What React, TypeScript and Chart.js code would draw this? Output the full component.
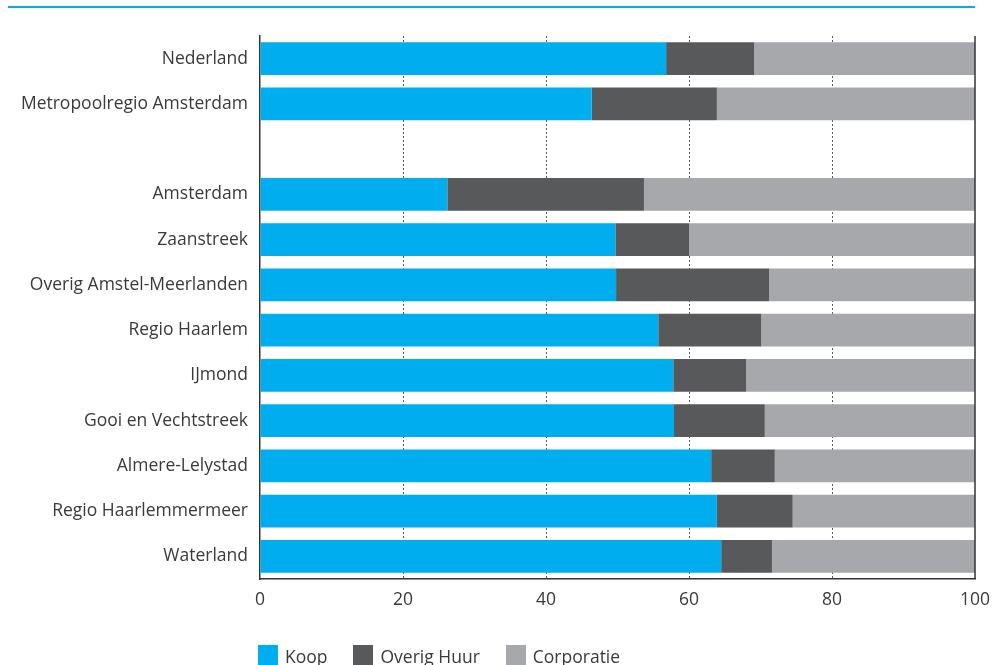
import React, { useEffect, useRef } from "react";
import { Chart, registerables } from "chart.js";

Chart.register(...registerables);

const categories = [
  "Nederland",
  "Metropoolregio Amsterdam",
  "",
  "Amsterdam",
  "Zaanstreek",
  "Overig Amstel-Meerlanden",
  "Regio Haarlem",
  "IJmond",
  "Gooi en Vechtstreek",
  "Almere-Lelystad",
  "Regio Haarlemmermeer",
  "Waterland",
];

const koop = [56.8, 46.4, null, 26.2, 49.7, 49.8, 55.7, 57.8, 57.9, 63.1, 63.9, 64.5];
const overigHuur = [12.3, 17.5, null, 27.5, 10.3, 21.4, 14.4, 10.2, 12.7, 8.9, 10.6, 7.1];
const corporatie = [30.9, 36.1, null, 46.3, 40.0, 28.8, 29.9, 32.0, 29.4, 28.0, 25.5, 28.4];

const xTicks = [0, 20, 40, 60, 80, 100];

const seriesNames = ["Koop", "Overig Huur", "Corporatie"];
const seriesColors = ["#00aeef", "#58595b", "#a7a8ab"];

const FONT = "'Open Sans', sans-serif";
const TEXT = "#3a3a3a";

const rightBorder = {
  id: "rightBorder",
  afterDatasetsDraw(chart: any) {
    const { ctx, chartArea } = chart;
    ctx.save();
    ctx.strokeStyle = "#333333";
    ctx.lineWidth = 1.5;
    ctx.beginPath();
    ctx.moveTo(chartArea.right, chartArea.top);
    ctx.lineTo(chartArea.right, chartArea.bottom);
    ctx.stroke();
    ctx.restore();
  },
};

export default function App() {
  const ref = useRef<HTMLCanvasElement | null>(null);

  useEffect(() => {
    if (!ref.current) return;
    const data = [koop, overigHuur, corporatie];
    const chart = new Chart(ref.current, {
      type: "bar",
      data: {
        labels: categories,
        datasets: seriesNames.map((name, i) => ({
          label: name,
          data: data[i] as any,
          backgroundColor: seriesColors[i],
          borderWidth: 0,
        })),
      },
      options: {
        indexAxis: "y",
        animation: false,
        responsive: false,
        maintainAspectRatio: false,
        layout: { padding: { left: 0, right: 27, top: 36, bottom: 46 } },
        plugins: {
          legend: { display: false },
          tooltip: { enabled: false },
        },
        scales: {
          x: {
            stacked: true,
            min: 0,
            max: 100,
            afterBuildTicks: (scale: any) => {
              scale.ticks = xTicks.map((v) => ({ value: v }));
            },
            afterFit: (scale: any) => {
              scale.height = 40;
            },
            ticks: {
              color: TEXT,
              font: { family: FONT, size: 17.5 },
              padding: 11,
            },
            grid: {
              drawTicks: false,
              color: (ctx: any) =>
                ctx.tick && (ctx.tick.value === 0 || ctx.tick.value === 100)
                  ? "rgba(0,0,0,0)"
                  : "#5a5a5a",
              lineWidth: 1,
            },
            border: {
              display: true,
              color: "#333333",
              width: 1.5,
              dash: [2, 2],
            },
          },
          y: {
            stacked: true,
            afterFit: (scale: any) => {
              scale.width = 260;
            },
            ticks: {
              color: TEXT,
              font: { family: FONT, size: 17.5 },
              padding: 12,
            },
            grid: { display: false, drawTicks: false },
            border: { display: true, color: "#333333", width: 1.5 },
          },
        },
      },
      plugins: [rightBorder],
    });
    return () => chart.destroy();
  }, []);

  return (
    <div
      style={{
        position: "fixed",
        left: 0,
        top: 0,
        width: 1002,
        height: 665,
        background: "#ffffff",
        overflow: "hidden",
        fontFamily: FONT,
      }}
    >
      <div
        style={{
          position: "absolute",
          left: 8,
          top: 6,
          width: 967,
          height: 2,
          background: "#00aeef",
        }}
      />
      <canvas ref={ref} width={1002} height={665} style={{ position: "absolute", left: 0, top: 0 }} />
      <div
        style={{
          position: "absolute",
          left: 258,
          top: 645,
          display: "flex",
          alignItems: "center",
          fontSize: 17.5,
          color: TEXT,
          whiteSpace: "nowrap",
        }}
      >
        {seriesNames.map((name, i) => (
          <div key={name} style={{ display: "flex", alignItems: "center", marginRight: 26 }}>
            <span
              style={{
                display: "inline-block",
                width: 20,
                height: 20,
                background: seriesColors[i],
                marginRight: 7,
              }}
            />
            <span style={{ lineHeight: "20px", position: "relative", top: 1 }}>{name}</span>
          </div>
        ))}
      </div>
    </div>
  );
}
